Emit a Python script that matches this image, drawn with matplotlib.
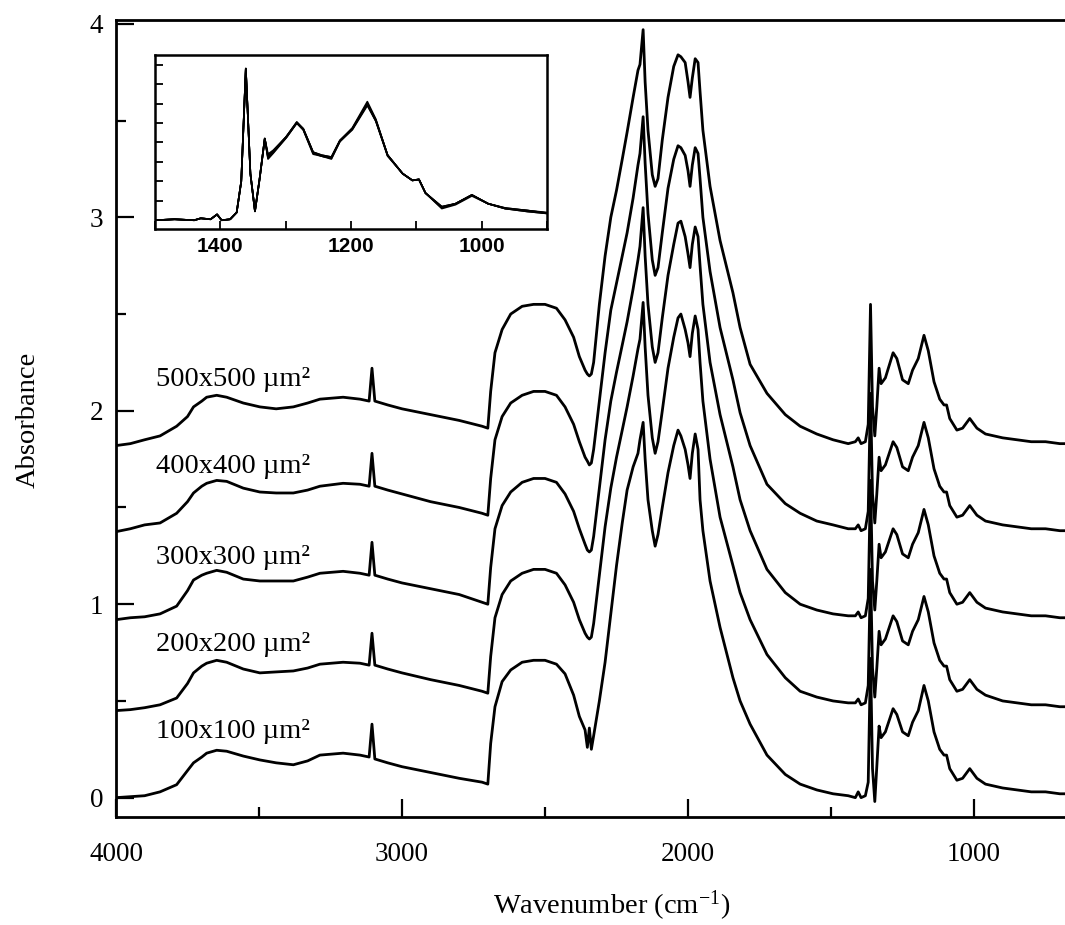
import matplotlib
matplotlib.use("Agg")
import matplotlib.pyplot as plt
from matplotlib.ticker import MultipleLocator, NullFormatter

# ---------------- data ----------------
wavenumber = [
    4000, 3950, 3900, 3846, 3788, 3750, 3729, 3700, 3683, 3648,
    3613, 3555, 3497, 3440, 3380, 3330, 3287, 3206, 3147, 3115,
    3105, 3095, 3050, 3000, 2900, 2800, 2720, 2700, 2690, 2675,
    2650, 2620, 2580, 2540, 2500, 2460, 2430, 2400, 2380, 2360,
    2352, 2345, 2338, 2330, 2310, 2290, 2270, 2250, 2230, 2213,
    2192, 2175, 2168, 2157, 2150, 2140, 2125, 2115, 2105, 2090,
    2070, 2050, 2035, 2025, 2010, 2000, 1993, 1985, 1975, 1965,
    1958, 1948, 1923, 1888, 1843, 1818, 1783, 1724, 1660, 1608,
    1550, 1493, 1440, 1415, 1405, 1395, 1380, 1370, 1362, 1355,
    1347, 1340, 1332, 1325, 1310, 1283, 1270, 1250, 1230, 1215,
    1195, 1175, 1160, 1140, 1120, 1105, 1096, 1085, 1060, 1040,
    1015, 990, 960, 900, 850, 800, 750, 700, 682]

abs_500 = [
    1.82, 1.83, 1.85, 1.87, 1.92, 1.97, 2.02, 2.05, 2.07, 2.08,
    2.07, 2.04, 2.02, 2.01, 2.02, 2.04, 2.06, 2.07, 2.06, 2.05,
    2.22, 2.05, 2.03, 2.01, 1.98, 1.95, 1.92, 1.91, 2.10, 2.30,
    2.42, 2.50, 2.54, 2.55, 2.55, 2.53, 2.47, 2.38, 2.28, 2.21,
    2.19, 2.18, 2.19, 2.25, 2.55, 2.80, 3.00, 3.14, 3.30, 3.44,
    3.62, 3.76, 3.79, 3.97, 3.70, 3.45, 3.22, 3.16, 3.20, 3.40,
    3.62, 3.78, 3.84, 3.83, 3.80, 3.70, 3.62, 3.72, 3.82, 3.80,
    3.65, 3.45, 3.16, 2.88, 2.61, 2.43, 2.24, 2.09, 1.98, 1.92,
    1.88, 1.85, 1.83, 1.84, 1.86, 1.83, 1.84, 1.93, 2.55, 2.02,
    1.87, 2.02, 2.22, 2.14, 2.17, 2.30, 2.27, 2.16, 2.14, 2.21,
    2.27, 2.39, 2.31, 2.15, 2.06, 2.03, 2.03, 1.96, 1.90, 1.91,
    1.96, 1.91, 1.88, 1.86, 1.85, 1.84, 1.84, 1.83, 1.83]

abs_400 = [
    1.375, 1.39, 1.41, 1.42, 1.47, 1.53, 1.575, 1.61, 1.625, 1.64,
    1.635, 1.60, 1.58, 1.575, 1.575, 1.59, 1.61, 1.625, 1.62, 1.61,
    1.78, 1.61, 1.59, 1.57, 1.53, 1.50, 1.47, 1.46, 1.65, 1.85,
    1.97, 2.04, 2.08, 2.10, 2.10, 2.08, 2.02, 1.93, 1.84, 1.76,
    1.74, 1.72, 1.73, 1.80, 2.05, 2.30, 2.52, 2.66, 2.80, 2.92,
    3.10, 3.27, 3.33, 3.52, 3.28, 3.02, 2.78, 2.70, 2.74, 2.92,
    3.15, 3.30, 3.37, 3.36, 3.32, 3.24, 3.16, 3.27, 3.36, 3.33,
    3.20, 3.00, 2.72, 2.43, 2.16, 1.99, 1.82, 1.62, 1.52, 1.47,
    1.43, 1.41, 1.39, 1.39, 1.41, 1.38, 1.39, 1.48, 2.09, 1.57,
    1.42, 1.57, 1.76, 1.69, 1.72, 1.84, 1.81, 1.71, 1.69, 1.76,
    1.82, 1.94, 1.86, 1.70, 1.61, 1.58, 1.58, 1.51, 1.45, 1.46,
    1.51, 1.46, 1.43, 1.41, 1.40, 1.39, 1.39, 1.38, 1.38]

abs_300 = [
    0.92, 0.93, 0.935, 0.95, 0.99, 1.07, 1.125, 1.15, 1.16, 1.175,
    1.165, 1.13, 1.12, 1.12, 1.12, 1.14, 1.16, 1.17, 1.16, 1.15,
    1.32, 1.15, 1.13, 1.11, 1.08, 1.05, 1.01, 1.00, 1.19, 1.39,
    1.51, 1.58, 1.63, 1.65, 1.65, 1.63, 1.57, 1.48, 1.39, 1.31,
    1.28, 1.27, 1.28, 1.35, 1.60, 1.85, 2.05, 2.20, 2.34, 2.46,
    2.63, 2.78, 2.85, 3.05, 2.80, 2.55, 2.33, 2.25, 2.30, 2.48,
    2.70, 2.86, 2.97, 2.98, 2.90, 2.81, 2.74, 2.86, 2.95, 2.90,
    2.75, 2.55, 2.25, 1.98, 1.71, 1.54, 1.38, 1.18, 1.06, 1.00,
    0.97, 0.95, 0.94, 0.94, 0.96, 0.93, 0.94, 1.03, 1.64, 1.12,
    0.97, 1.12, 1.31, 1.24, 1.27, 1.39, 1.36, 1.26, 1.24, 1.31,
    1.37, 1.49, 1.41, 1.25, 1.16, 1.13, 1.13, 1.06, 1.00, 1.01,
    1.06, 1.01, 0.98, 0.96, 0.95, 0.94, 0.94, 0.93, 0.93]

abs_200 = [
    0.45, 0.455, 0.465, 0.48, 0.515, 0.59, 0.645, 0.68, 0.695, 0.71,
    0.70, 0.665, 0.645, 0.65, 0.655, 0.67, 0.69, 0.70, 0.695, 0.685,
    0.85, 0.685, 0.665, 0.645, 0.61, 0.58, 0.55, 0.54, 0.73, 0.93,
    1.05, 1.12, 1.16, 1.18, 1.18, 1.16, 1.10, 1.01, 0.92, 0.85,
    0.83, 0.82, 0.83, 0.90, 1.15, 1.40, 1.60, 1.76, 1.90, 2.02,
    2.18, 2.32, 2.37, 2.56, 2.33, 2.08, 1.86, 1.78, 1.84, 2.00,
    2.22, 2.38, 2.48, 2.50, 2.42, 2.35, 2.28, 2.40, 2.49, 2.42,
    2.25, 2.05, 1.75, 1.45, 1.20, 1.06, 0.92, 0.74, 0.62, 0.55,
    0.52, 0.50, 0.49, 0.49, 0.51, 0.48, 0.49, 0.58, 1.18, 0.67,
    0.52, 0.67, 0.86, 0.79, 0.82, 0.94, 0.91, 0.81, 0.79, 0.86,
    0.92, 1.04, 0.96, 0.80, 0.71, 0.68, 0.68, 0.61, 0.55, 0.56,
    0.61, 0.56, 0.53, 0.50, 0.49, 0.48, 0.48, 0.47, 0.47]

abs_100 = [
    0.00, 0.005, 0.01, 0.03, 0.067, 0.14, 0.18, 0.21, 0.23, 0.245,
    0.24, 0.215, 0.195, 0.18, 0.17, 0.19, 0.22, 0.23, 0.22, 0.21,
    0.38, 0.20, 0.18, 0.16, 0.13, 0.10, 0.08, 0.07, 0.28, 0.47,
    0.60, 0.66, 0.70, 0.71, 0.71, 0.69, 0.64, 0.53, 0.42, 0.35,
    0.26, 0.36, 0.25, 0.32, 0.50, 0.70, 0.95, 1.20, 1.42, 1.59,
    1.71, 1.78, 1.85, 1.94, 1.75, 1.54, 1.38, 1.30, 1.36, 1.50,
    1.68, 1.82, 1.90, 1.87, 1.80, 1.72, 1.65, 1.78, 1.88, 1.80,
    1.54, 1.38, 1.12, 0.88, 0.62, 0.50, 0.38, 0.22, 0.12, 0.07,
    0.04, 0.02, 0.01, 0.00, 0.03, 0.00, 0.01, 0.08, 0.72, 0.15,
    -0.02, 0.16, 0.37, 0.31, 0.34, 0.46, 0.43, 0.34, 0.32, 0.39,
    0.45, 0.58, 0.50, 0.34, 0.25, 0.22, 0.22, 0.15, 0.09, 0.10,
    0.15, 0.10, 0.07, 0.05, 0.04, 0.03, 0.03, 0.02, 0.02]

series_labels = ["500x500 µm²", "400x400 µm²", "300x300 µm²",
                 "200x200 µm²", "100x100 µm²"]
label_y = [2.16, 1.71, 1.24, 0.79, 0.34]

# inset (1500-900 cm-1, overlaid spectra)
inset_wn = [1500, 1470, 1440, 1430, 1415, 1405, 1398, 1385, 1375, 1368,
            1361, 1354, 1347, 1340, 1332, 1327, 1319, 1299, 1283, 1273,
            1258, 1245, 1230, 1217, 1198, 1175, 1162, 1144, 1121, 1106,
            1096, 1086, 1061, 1040, 1015, 990, 964, 930, 900]
inset_500 = [0.00, 0.005, 0.00, 0.01, 0.005, 0.03, 0.00, 0.005, 0.04, 0.20,
             0.78, 0.24, 0.046, 0.21, 0.42, 0.34, 0.36, 0.43, 0.505, 0.47,
             0.35, 0.335, 0.325, 0.41, 0.475, 0.61, 0.52, 0.335, 0.24, 0.205,
             0.21, 0.14, 0.07, 0.085, 0.13, 0.085, 0.063, 0.05, 0.037]
inset_400 = [0.00, 0.005, 0.00, 0.01, 0.005, 0.03, 0.00, 0.005, 0.04, 0.20,
             0.78, 0.24, 0.046, 0.21, 0.42, 0.32, 0.35, 0.425, 0.50, 0.465,
             0.345, 0.33, 0.32, 0.405, 0.47, 0.60, 0.515, 0.335, 0.24, 0.205,
             0.21, 0.14, 0.065, 0.085, 0.13, 0.085, 0.06, 0.045, 0.035]
inset_300 = [0.00, 0.005, 0.00, 0.01, 0.005, 0.03, 0.00, 0.005, 0.04, 0.20,
             0.78, 0.24, 0.046, 0.21, 0.42, 0.33, 0.355, 0.43, 0.505, 0.47,
             0.35, 0.335, 0.325, 0.41, 0.47, 0.595, 0.51, 0.33, 0.24, 0.205,
             0.21, 0.14, 0.07, 0.085, 0.13, 0.085, 0.063, 0.05, 0.037]
inset_200 = [0.00, 0.005, 0.00, 0.01, 0.005, 0.03, 0.00, 0.005, 0.04, 0.20,
             0.78, 0.24, 0.046, 0.21, 0.42, 0.325, 0.35, 0.43, 0.50, 0.47,
             0.35, 0.33, 0.32, 0.41, 0.47, 0.60, 0.515, 0.335, 0.24, 0.205,
             0.21, 0.14, 0.065, 0.085, 0.13, 0.085, 0.06, 0.05, 0.04]
inset_100 = [0.00, 0.005, 0.00, 0.01, 0.005, 0.03, 0.00, 0.005, 0.04, 0.20,
             0.78, 0.24, 0.046, 0.21, 0.42, 0.315, 0.345, 0.425, 0.50, 0.465,
             0.34, 0.33, 0.315, 0.405, 0.465, 0.59, 0.51, 0.335, 0.24, 0.205,
             0.21, 0.14, 0.06, 0.08, 0.125, 0.085, 0.06, 0.045, 0.035]

# ---------------- figure ----------------
plt.rcParams["font.family"] = ["Liberation Serif", "DejaVu Serif"]
plt.rcParams["mathtext.fontset"] = "custom"
plt.rcParams["mathtext.rm"] = "Liberation Serif"
plt.rcParams["mathtext.it"] = "Liberation Serif:italic"

FS_TICK = 19.5
FS_TEXT = 20.5
W, H = 1065, 925
fig = plt.figure(figsize=(W / 100, H / 100), dpi=100)
fig.patch.set_facecolor("white")

ax = fig.add_axes([116 / W, 1 - 817 / H, 1 - 116 / W, (817 - 20) / H])
for vals in [abs_500, abs_400, abs_300, abs_200, abs_100]:
    ax.plot(wavenumber, vals, color="black", lw=2.0, solid_joinstyle="round")

for txt, yy in zip(series_labels, label_y):
    ax.text(3860, yy, txt, fontsize=FS_TEXT, va="center", ha="left")

ax.set_xlim(4000, 682)
ax.set_ylim(-0.1, 4.02)
ax.xaxis.set_major_locator(MultipleLocator(1000))
ax.xaxis.set_minor_locator(MultipleLocator(500))
ax.yaxis.set_major_locator(MultipleLocator(1))
ax.yaxis.set_minor_locator(MultipleLocator(0.5))
ax.tick_params(axis="both", which="major", direction="in", length=13, width=1.6,
               labelsize=FS_TICK)
ax.tick_params(axis="both", which="minor", direction="in", length=7, width=1.6)
ax.tick_params(axis="x", which="major", pad=18)
ax.tick_params(axis="y", which="major", pad=9)
ax.tick_params(top=False, right=False, which="both")
ax.spines["right"].set_visible(False)
for s in ["left", "bottom", "top"]:
    ax.spines[s].set_linewidth(2.0)

fig.text(612 / W, 1 - 906 / H, "Wavenumber (cm$^{-1}$)", fontsize=FS_TEXT,
         ha="center", va="center")
fig.text(28 / W, 1 - 420 / H, "Absorbance", fontsize=FS_TEXT, rotation=90,
         ha="center", va="center")

# inset
axi = fig.add_axes([155 / W, 1 - 229 / H, 392 / W, 174 / H])
for vals in [inset_500, inset_400, inset_300, inset_200, inset_100]:
    axi.plot(inset_wn, vals, color="black", lw=1.2)
axi.set_xlim(1500, 900)
axi.set_ylim(-0.045, 0.85)
axi.xaxis.set_major_locator(MultipleLocator(200))
axi.xaxis.set_minor_locator(MultipleLocator(100))
axi.yaxis.set_major_locator(MultipleLocator(0.1))
axi.yaxis.set_major_formatter(NullFormatter())
axi.tick_params(axis="both", which="both", direction="in", length=6, width=1.3)
axi.tick_params(axis="x", which="major", labelsize=15, pad=6)
for lab in axi.get_xticklabels():
    lab.set_family(["Liberation Sans", "DejaVu Sans"])
    lab.set_fontweight("bold")
for s in axi.spines.values():
    s.set_linewidth(1.8)

fig.savefig("out.png", dpi=100)
